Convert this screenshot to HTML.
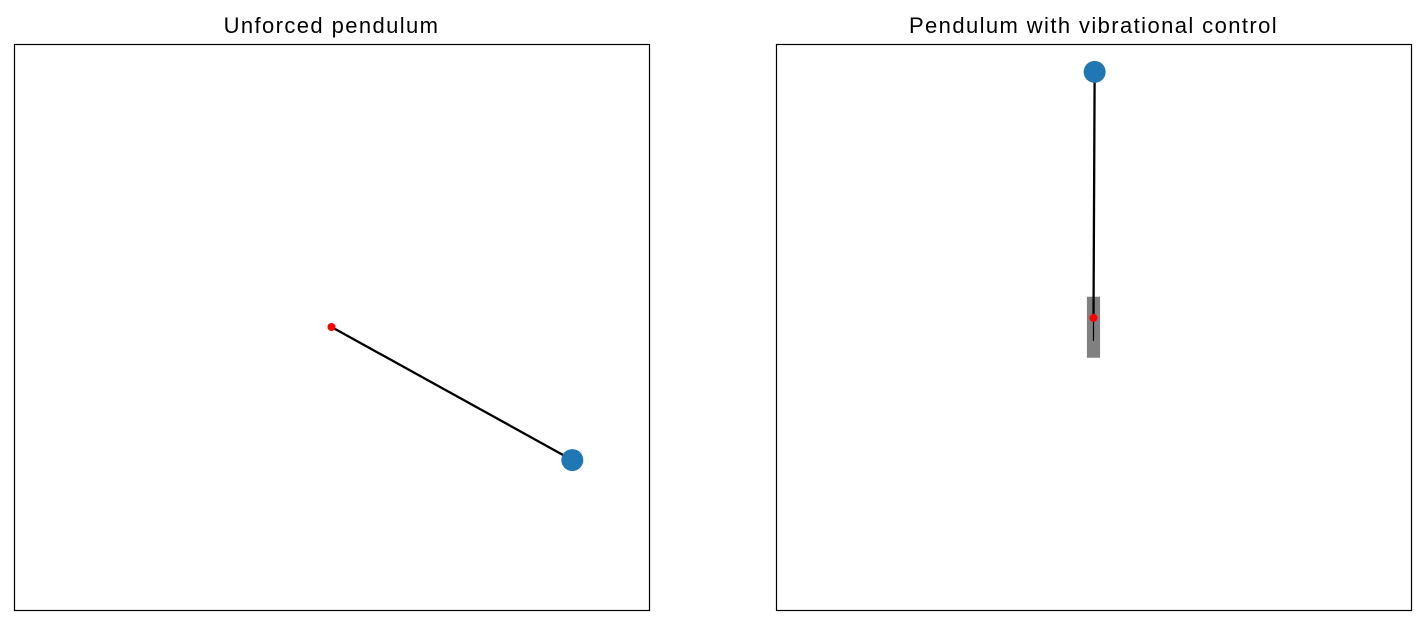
<!DOCTYPE html>
<html><head><meta charset="utf-8"><style>
html,body{margin:0;padding:0;background:#fff;width:1424px;height:626px;overflow:hidden}
svg text{font-family:"Liberation Sans",sans-serif;font-size:22px;letter-spacing:1.4px}
</style></head><body>
<svg id="fig" width="1424" height="626" xmlns="http://www.w3.org/2000/svg"></svg>
<script>
// data (unit-length pendulum, pivot coords in data units)
const panelTitles = ["Unforced pendulum", "Pendulum with vibrational control"];
const pivotX = [0, 0];
const pivotY = [0, 0.037];
const bobX = [0.842, 0.004];
const bobY = [-0.541, 1.037];
const hasBase = [false, true];
const baseHalfWidth = 0.023, baseHalfHeight = 0.124;

const NS = "http://www.w3.org/2000/svg";
const svg = document.getElementById('fig');
const axesLeft = [14, 776], axesTop = 44, axesW = 635, axesH = 566;
const sx = 286, sy = 246;
function mk(tag, attrs, parent) {
  const e = document.createElementNS(NS, tag);
  for (const k in attrs) e.setAttribute(k, attrs[k]);
  (parent || svg).appendChild(e);
  return e;
}
for (let i = 0; i < 2; i++) {
  const g = mk('g', {});
  
  
  const cx = axesLeft[i] + axesW / 2, cy = axesTop + axesH / 2;
  const X = v => cx + v * sx, Y = v => cy - v * sy;
  const fr = mk('rect', {x: axesLeft[i] + 0.5, y: axesTop + 0.5, width: axesW, height: axesH, fill: 'none', stroke: '#000', 'stroke-width': 1.2}, g);
  
  
  const t = mk('text', {x: cx, y: 33, 'text-anchor': 'middle'}, g);
  t.textContent = panelTitles[i];
  
  
  if (hasBase[i]) {
    const b = mk('rect', {x: X(pivotX[i] - baseHalfWidth), y: Y(pivotY[i] + 0.086), width: 2 * baseHalfWidth * sx, height: 2 * baseHalfHeight * sy, fill: '#808080'}, g);
    
    
    const s = mk('line', {x1: X(pivotX[i]), y1: Y(pivotY[i]), x2: X(pivotX[i]), y2: Y(pivotY[i]) + 23, stroke: '#000', 'stroke-width': 1.2}, g);
    
    
  }
  const rod = mk('line', {x1: X(pivotX[i]), y1: Y(pivotY[i]), x2: X(bobX[i]), y2: Y(bobY[i]), stroke: '#000', 'stroke-width': 2.3}, g);
  
  
  const bob = mk('circle', {cx: X(bobX[i]), cy: Y(bobY[i]), r: 11, fill: '#1f77b4'}, g);
  
  
  const p = mk('circle', {cx: X(pivotX[i]), cy: Y(pivotY[i]), r: 4, fill: '#ff0000'}, g);
  
  
}
</script>
</body></html>
